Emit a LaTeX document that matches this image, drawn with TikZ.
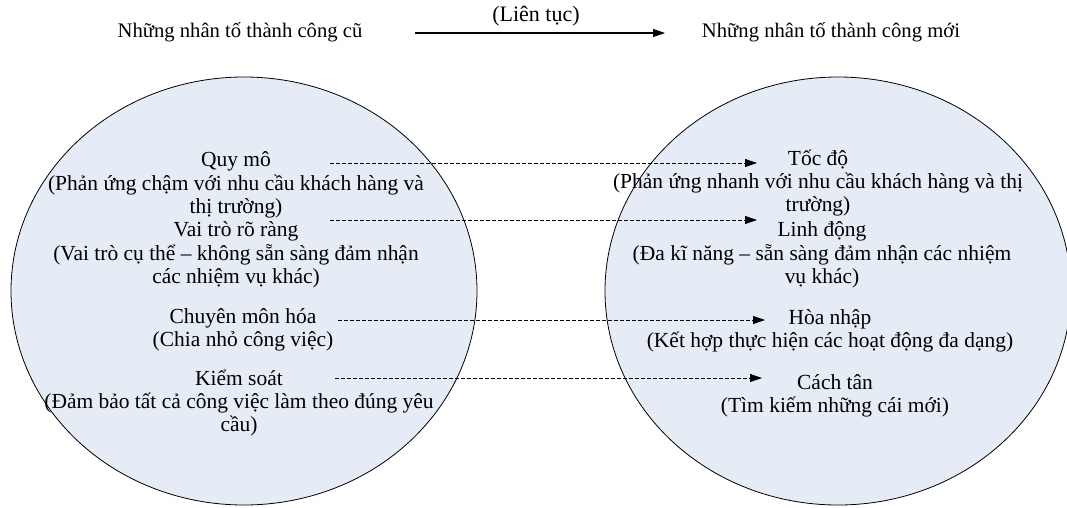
\documentclass[tikz,border=0pt]{standalone}
\usepackage{fontspec}
\setmainfont{Liberation Serif}
\usetikzlibrary{arrows.meta}
\definecolor{efill}{RGB}{230,236,246}
\begin{document}
\begin{tikzpicture}[x=0.75pt,y=-0.75pt,
  txt/.style={font=\fontsize{16.1}{17.5}\selectfont, align=center, inner sep=0pt},
  ttl/.style={font=\fontsize{15.5}{18}\selectfont, inner sep=0pt},
  conn/.style={-{Triangle[length=9pt,width=6pt]}, dash pattern=on 3pt off 1.5pt, line width=0.6pt},
  mainarrow/.style={-{Triangle[length=9pt,width=6pt]}, line width=0.8pt},
  bubble/.style={draw=black, line width=0.6pt, fill=efill}]
\useasboundingbox (0,0) rectangle (1067,507);
\path[bubble] (244,291) ellipse [x radius=174.75pt, y radius=160.5pt];
\path[bubble] (838,291) ellipse [x radius=174.75pt, y radius=160.5pt];

\node[ttl] (oldt) at (240,32) {Những nhân tố thành công cũ};
\node[ttl] (newt) at (831,32) {Những nhân tố thành công mới};
\node[ttl, font=\fontsize{16.5}{18}\selectfont] (lien) at (536,16) {(Liên tục)};
\coordinate (ms) at (415,33);
\coordinate (me) at (665,33);
\draw[mainarrow] (ms) -- (me);

\node[txt] (l1) at (236,185) {Quy mô\\(Phản ứng chậm với nhu cầu khách hàng và\\thị trường)};
\node[txt] (l2) at (236,255) {Vai trò rõ ràng\\(Vai trò cụ thể – không sẵn sàng đảm nhận\\các nhiệm vụ khác)};
\node[txt] (l3) at (243,330) {Chuyên môn hóa\\(Chia nhỏ công việc)};
\node[txt] (l4) at (239,403) {Kiểm soát\\(Đảm bảo tất cả công việc làm theo đúng yêu\\cầu)};

\node[txt] (r1) at (818,183) {Tốc độ\\(Phản ứng nhanh với nhu cầu khách hàng và thị\\trường)};
\node[txt] (r2) at (822,255) {Linh động\\(Đa kĩ năng – sẵn sàng đảm nhận các nhiệm\\vụ khác)};
\node[txt] (r3) at (830,331) {Hòa nhập\\(Kết hợp thực hiện các hoạt động đa dạng)};
\node[txt] (r4) at (835,396) {Cách tân\\(Tìm kiếm những cái mới)};

\coordinate (a1s) at (330,163); \coordinate (a1e) at (757,163);
\coordinate (a2s) at (330,220); \coordinate (a2e) at (757,220);
\coordinate (a3s) at (338,320); \coordinate (a3e) at (765,320);
\coordinate (a4s) at (335,378); \coordinate (a4e) at (762,378);
\draw[conn] (a1s) -- (a1e);
\draw[conn] (a2s) -- (a2e);
\draw[conn] (a3s) -- (a3e);
\draw[conn] (a4s) -- (a4e);
\end{tikzpicture}
\end{document}
